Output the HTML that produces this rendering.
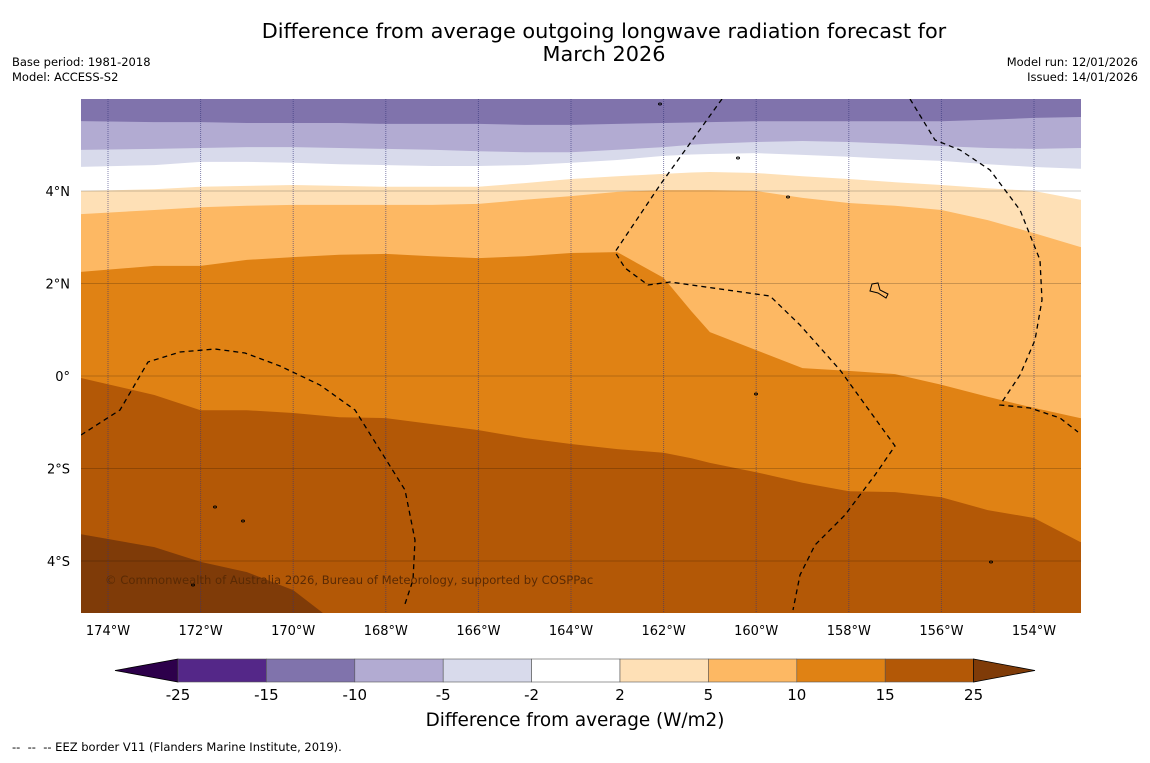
<!DOCTYPE html>
<html><head><meta charset="utf-8"><style>
body{margin:0;background:#fff;font-family:"Liberation Sans","DejaVu Sans",sans-serif;}
svg text{font-family:"DejaVu Sans","Liberation Sans",sans-serif;}
</style></head><body>
<svg id="chart" width="1150" height="758" viewBox="0 0 1150 758">
<rect width="1150" height="758" fill="#fff"/>
<text x="604" y="38" font-size="20.8" text-anchor="middle">Difference from average outgoing longwave radiation forecast for</text>
<text x="604" y="61" font-size="20.8" text-anchor="middle">March 2026</text>
<text x="12" y="66" font-size="11.5">Base period: 1981-2018</text>
<text x="12" y="81" font-size="11.5">Model: ACCESS-S2</text>
<text x="1138" y="66" font-size="11.5" text-anchor="end">Model run: 12/01/2026</text>
<text x="1138" y="81" font-size="11.5" text-anchor="end">Issued: 14/01/2026</text>
<defs><clipPath id="mapclip"><rect x="81" y="99" width="1000" height="514"/></clipPath></defs>
<g id="map" clip-path="url(#mapclip)"></g>
<g id="over"></g>
<g id="cbar"></g>
<text x="575" y="726" font-size="18.4" text-anchor="middle">Difference from average (W/m2)</text>
<text x="12" y="751" font-size="11.5" xml:space="preserve">--  --  -- EEZ border V11 (Flanders Marine Institute, 2019).</text>
</svg>
<script>
const lons=[-174.6,-173,-172,-171,-170,-169,-168,-167,-166,-165,-164,-163,-162,-161.4,-161,-160,-159,-158,-157,-156,-155,-154,-153];
const edgeM10=[5.51,5.49,5.49,5.47,5.47,5.47,5.45,5.45,5.45,5.43,5.43,5.45,5.47,5.48,5.49,5.51,5.51,5.51,5.51,5.51,5.54,5.58,5.60];
const edgeM5=[4.89,4.91,4.93,4.95,4.95,4.93,4.91,4.89,4.86,4.84,4.84,4.89,4.95,5.0,5.02,5.06,5.08,5.06,5.02,4.97,4.93,4.91,4.93];
const edgeM2=[4.52,4.56,4.63,4.63,4.61,4.58,4.56,4.54,4.54,4.56,4.61,4.67,4.76,4.79,4.80,4.82,4.78,4.74,4.69,4.65,4.58,4.52,4.48];
const edgeP2=[4.00,4.04,4.09,4.11,4.13,4.11,4.09,4.09,4.09,4.17,4.26,4.32,4.37,4.40,4.41,4.39,4.32,4.26,4.19,4.13,4.06,4.00,3.81];
const edgeP5=[3.50,3.59,3.65,3.68,3.70,3.70,3.70,3.70,3.72,3.81,3.89,3.98,4.02,4.02,4.02,4.00,3.85,3.74,3.68,3.59,3.37,3.09,2.79];
const edgeP10=[2.25,2.38,2.38,2.51,2.57,2.62,2.64,2.59,2.55,2.59,2.66,2.68,2.12,1.40,0.95,0.56,0.17,0.11,0.04,-0.19,-0.45,-0.69,-0.91];
const edgeP15=[-0.04,-0.41,-0.74,-0.74,-0.80,-0.89,-0.91,-1.04,-1.17,-1.34,-1.47,-1.58,-1.66,-1.78,-1.88,-2.08,-2.31,-2.49,-2.51,-2.62,-2.90,-3.07,-3.59];
const edgeP25=[-3.42,-3.70,-4.02,-4.24,-4.63,-5.40,-6,-6,-6,-6,-6,-6,-6,-6,-6,-6,-6,-6,-6,-6,-6,-6,-6];
const levels=["-25","-15","-10","-5","-2","2","5","10","15","25"];
const bandColors=["#542788","#8073ac","#b2abd2","#d8daeb","#ffffff","#fee0b6","#fdb863","#e08214","#b35806"];
const lonTicks=[-174,-172,-170,-168,-166,-164,-162,-160,-158,-156,-154];
const latTicks=[4,2,0,-2,-4];

const NS="http://www.w3.org/2000/svg";
const X=lon=>108+(lon+174)*46.3;
const Y=lat=>376-lat*46.25;
function mk(tag,attrs,parent){const e=document.createElementNS(NS,tag);for(const k in attrs)e.setAttribute(k,attrs[k]);parent.appendChild(e);return e;}
const map=document.getElementById('map'),over=document.getElementById('over'),cb=document.getElementById('cbar');

const edges=[edgeM10,edgeM5,edgeM2,edgeP2,edgeP5,edgeP10,edgeP15,edgeP25];
const edgeCols=["#b2abd2","#d8daeb","#ffffff","#fee0b6","#fdb863","#e08214","#b35806","#7f3b08"];
const edgeNames=["band-minus10-to-minus5","band-minus5-to-minus2","band-minus2-to-2","band-2-to-5","band-5-to-10","band-10-to-15","band-15-to-25","band-above-25"];
let bg=mk('rect',{x:60,y:90,width:1040,height:540,fill:"#8073ac"},map);


edges.forEach((ed,i)=>{
  let d="M"+X(lons[0])+","+Y(ed[0]);
  for(let j=1;j<lons.length;j++)d+=" L"+X(lons[j]).toFixed(1)+","+Y(ed[j]).toFixed(1);
  d+=" L1100,"+Y(ed[ed.length-1]).toFixed(1)+" L1100,640 L60,640 L60,"+Y(ed[0]).toFixed(1)+" Z";
  const p=mk('path',{d:d,fill:edgeCols[i]},map);
  
  
});
latTicks.forEach(lt=>{
  const l=mk('line',{x1:81,x2:1081,y1:Y(lt),y2:Y(lt),stroke:"#000","stroke-opacity":0.2,"stroke-width":1},map);
  
  
  const t=mk('text',{x:70,y:Y(lt)+5,"font-size":13,"text-anchor":"end"},over);
  t.textContent=(lt===0?"0°":Math.abs(lt)+"°"+(lt>0?"N":"S"));
  
  
});
lonTicks.forEach(ln=>{
  const l=mk('line',{x1:X(ln),x2:X(ln),y1:99,y2:613,stroke:"#33337a","stroke-opacity":0.6,"stroke-width":1,"stroke-dasharray":"1,1"},map);
  
  
  const t=mk('text',{x:X(ln),y:635,"font-size":13,"text-anchor":"middle"},over);
  t.textContent=Math.abs(ln)+"°W";
  
  
});
const eez=[
 "M722,99 L660,185 L615,252 L625,268 L648,285 L670,282 L770,296 L800,325 L840,370 L895,446 L875,475 L845,515 L815,545 L800,575 L793,610",
 "M910,99 L935,140 L960,150 L990,170 L1020,210 L1040,260 L1042,300 L1035,340 L1020,375 L1000,405 L1030,408 L1060,418 L1078,432",
 "M81,435 L120,410 L148,362 L180,352 L215,349 L245,353 L280,366 L320,385 L355,410 L380,450 L405,490 L415,540 L413,580 L404,607"];
eez.forEach(d=>{const p=mk('path',{d:d,fill:"none",stroke:"#000","stroke-width":1.3,"stroke-dasharray":"5,4"},map);
 
 });
[[660,104],[738,158],[788,197],[215,507],[243,521],[193,585],[991,562],[756,394]].forEach(c=>{
 const e=mk('ellipse',{cx:c[0],cy:c[1],rx:1.5,ry:1,fill:"none",stroke:"#000","stroke-width":1},map);
 
 });
const is=mk('path',{d:"M872,284 L878,283 L880,290 L888,294 L886,298 L878,293 L870,291 Z",fill:"none",stroke:"#000","stroke-width":1},map);


const cp=mk('text',{x:105,y:584,"font-size":11.6,fill:"#5a2a04"},map);
cp.textContent="© Commonwealth of Australia 2026, Bureau of Meteorology, supported by COSPPac";


const cx0=178,cw=88.4,cy=659,ch=23;
let t1=mk('path',{d:`M${cx0},${cy} L115,${cy+ch/2} L${cx0},${cy+ch} Z`,fill:"#2d004b",stroke:"#000","stroke-width":0.8},cb);


bandColors.forEach((c,i)=>{
 const r=mk('rect',{x:cx0+i*cw,y:cy,width:cw,height:ch,fill:c,stroke:"#555","stroke-width":0.6},cb);
 
 
});
const xe=cx0+bandColors.length*cw;
let t2=mk('path',{d:`M${xe},${cy} L1035,${cy+ch/2} L${xe},${cy+ch} Z`,fill:"#7f3b08",stroke:"#000","stroke-width":0.8},cb);


levels.forEach((lv,i)=>{
 const t=mk('text',{x:cx0+i*cw,y:700,"font-size":15,"text-anchor":"middle"},cb);
 t.textContent=lv;
 
 
});
</script>
</body></html>
